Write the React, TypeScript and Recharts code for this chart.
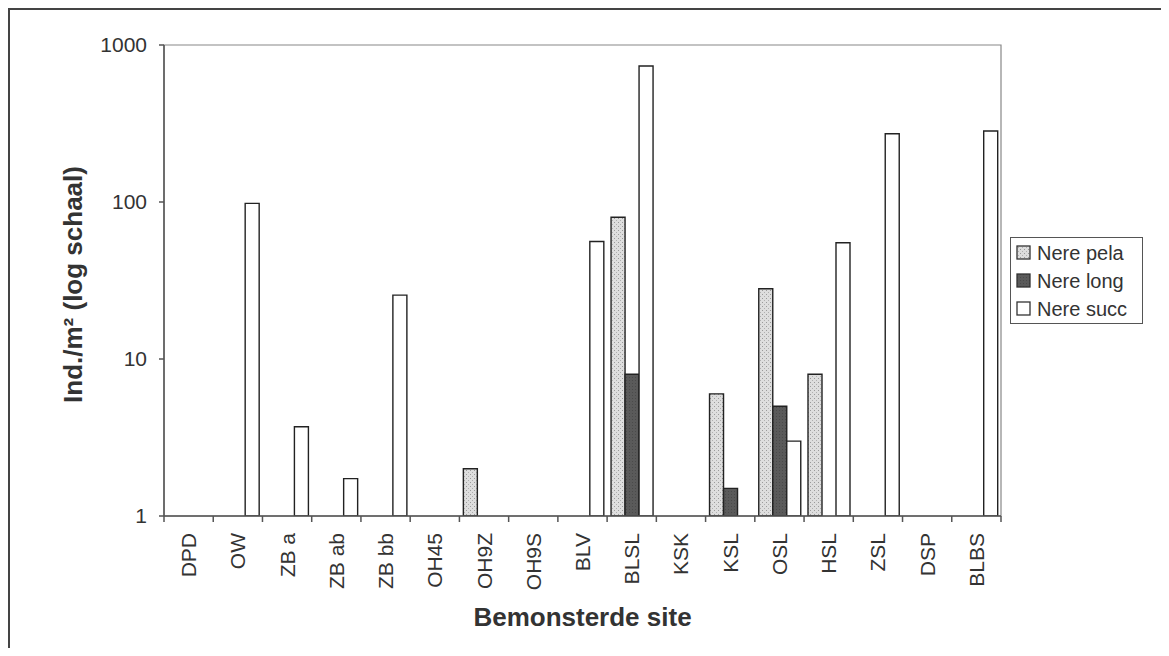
import { Bar, BarChart, Legend, ReferenceArea, XAxis, YAxis } from "recharts";

const sites = ["DPD", "OW", "ZB a", "ZB ab", "ZB bb", "OH45", "OH9Z", "OH9S", "BLV", "BLSL", "KSK", "KSL", "OSL", "HSL", "ZSL", "DSP", "BLBS"];
const nerePela = [null, null, null, null, null, null, 2, null, null, 80, null, 6, 28, 8, null, null, null];
const nereLong = [null, null, null, null, null, null, null, null, null, 8, null, 1.5, 5, null, null, null, null];
const nereSucc = [null, 98, 3.7, 1.73, 25.5, null, null, null, 56, 735, null, null, 3, 55, 272, null, 283];
const yTicks = [1, 10, 100, 1000];

const series = [
  { key: "pela", name: "Nere pela", fill: "url(#pelaFill)" },
  { key: "long", name: "Nere long", fill: "url(#longFill)" },
  { key: "succ", name: "Nere succ", fill: "#ffffff" },
];

const data = sites.map((site, i) => ({ site, pela: nerePela[i], long: nereLong[i], succ: nereSucc[i] }));

const font = "'Liberation Sans', Arial, sans-serif";
const ink = "#333";

// category labels, plus Excel-style tick marks on the category boundaries
function SiteTick({ x, y, payload, index, width, visibleTicksCount }: any) {
  const band = width / visibleTicksCount;
  const axisY = y - 8;
  const ty = y + 9;
  return (
    <g>
      <line x1={x - band / 2} x2={x - band / 2} y1={axisY} y2={axisY + 6} stroke="#555" strokeWidth={1.5} />
      {index === visibleTicksCount - 1 && (
        <line x1={x + band / 2} x2={x + band / 2} y1={axisY} y2={axisY + 6} stroke="#555" strokeWidth={1.5} />
      )}
      <text x={x} y={ty} transform={`rotate(-90 ${x} ${ty})`} textAnchor="end" dominantBaseline="central"
        fontSize={21} fill={ink} fontFamily={font}>
        {payload.value}
      </text>
    </g>
  );
}

function YLabel({ viewBox }: any) {
  const cx = viewBox.x + 63;
  const cy = viewBox.y + viewBox.height / 2 + 4;
  return (
    <text x={cx} y={cy} transform={`rotate(-90 ${cx} ${cy})`} textAnchor="middle" dominantBaseline="central"
      fontSize={26} fontWeight="bold" fill={ink} fontFamily={font}>
      Ind./m² (log schaal)
    </text>
  );
}

function XLabel({ viewBox }: any) {
  return (
    <text x={viewBox.x + viewBox.width / 2} y={viewBox.y + 110} textAnchor="middle"
      fontSize={26} fontWeight="bold" fill={ink} fontFamily={font}>
      Bemonsterde site
    </text>
  );
}

function LegendBox() {
  return (
    <div style={{ width: 126, height: 85, border: "1.5px solid #555", display: "flex", flexDirection: "column", justifyContent: "center", gap: 6, paddingLeft: 5, boxSizing: "content-box" }}>
      {series.map((s) => (
        <div key={s.key} style={{ display: "flex", alignItems: "center", height: 22 }}>
          <svg width={15} height={15} style={{ marginRight: 6 }}>
            <rect x={1} y={1} width={13} height={13} fill={s.fill} stroke="#333" strokeWidth={1.3} />
          </svg>
          <span style={{ fontSize: 20, color: ink, fontFamily: font, lineHeight: "22px" }}>{s.name}</span>
        </div>
      ))}
    </div>
  );
}

export default function App() {
  return (
    <div style={{ borderTop: "2px solid #444", borderLeft: "2px solid #444", width: 1151, height: 638, fontFamily: font }}>
      <BarChart width={1151} height={638} data={data} margin={{ top: 35, right: 29, bottom: 14, left: 0 }}
        barCategoryGap="8%" barGap={0}>
        <defs>
          <pattern id="pelaFill" width="4" height="4" patternUnits="userSpaceOnUse">
            <rect width="4" height="4" fill="#dedede" />
            <rect x="0" y="0" width="1" height="1" fill="#9a9a9a" />
            <rect x="2" y="2" width="1" height="1" fill="#b0b0b0" />
          </pattern>
          <pattern id="longFill" width="3" height="3" patternUnits="userSpaceOnUse">
            <rect width="3" height="3" fill="#5a5a5a" />
            <rect x="1" y="1" width="1" height="1" fill="#4a4a4a" />
          </pattern>
        </defs>
        <ReferenceArea x1={sites[0]} x2={sites[sites.length - 1]} y1={1} y2={1000} fill="none"
          stroke="#888" strokeWidth={1.2} ifOverflow="visible" />
        <XAxis dataKey="site" interval={0} tickLine={false} height={118} stroke="#555" strokeWidth={1.5}
          tick={<SiteTick />} label={<XLabel />} />
        <YAxis scale="log" domain={[1, 1000]} ticks={yTicks} allowDataOverflow width={154}
          tickSize={5} tickMargin={12} stroke="#555" strokeWidth={1.5}
          tick={{ fontSize: 21, fill: ink, fontFamily: font }} label={<YLabel />} />
        <Legend layout="horizontal" verticalAlign="middle" align="right" content={<LegendBox />}
          wrapperStyle={{ top: 227, right: 20, left: "auto", width: 131, height: 88 }} />
        {series.map((s) => (
          <Bar key={s.key} dataKey={s.key} name={s.name} fill={s.fill}
            stroke="#222" strokeWidth={1.4} isAnimationActive={false} />
        ))}
      </BarChart>
    </div>
  );
}
